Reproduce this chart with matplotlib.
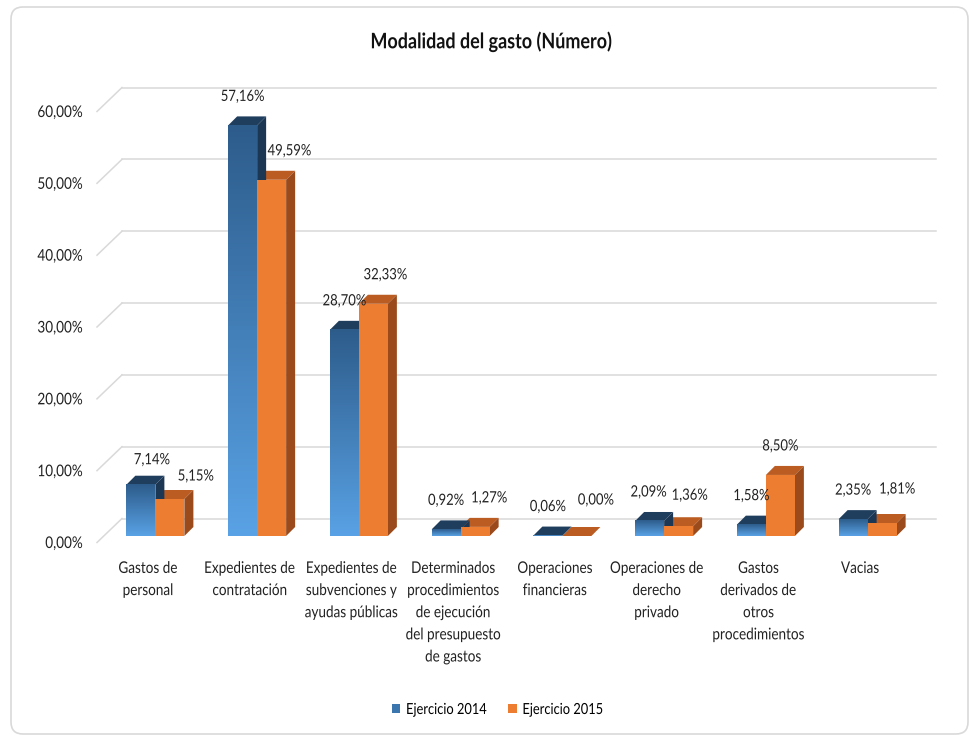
import numpy as np
import matplotlib
matplotlib.use("Agg")
import matplotlib.pyplot as plt
from matplotlib import font_manager as fm
from matplotlib.patches import Polygon, FancyBboxPatch, Patch
from matplotlib.colors import to_rgb
from matplotlib.patheffects import AbstractPathEffect
from matplotlib.transforms import Affine2D

# ---------------- data ----------------
categories = [
    "Gastos de\npersonal",
    "Expedientes de\ncontratación",
    "Expedientes de\nsubvenciones y\nayudas públicas",
    "Determinados\nprocedimientos\nde ejecución\ndel presupuesto\nde gastos",
    "Operaciones\nfinancieras",
    "Operaciones de\nderecho\nprivado",
    "Gastos\nderivados de\notros\nprocedimientos",
    "Vacias",
]
series_names = ["Ejercicio 2014", "Ejercicio 2015"]
values_2014 = [7.14, 57.16, 28.70, 0.92, 0.06, 2.09, 1.58, 2.35]
values_2015 = [5.15, 49.59, 32.33, 1.27, 0.00, 1.36, 8.50, 1.81]
y_ticks = [0, 10, 20, 30, 40, 50, 60]
title = "Modalidad del gasto (Número)"

# label nudges (pixels) mimicking Excel's placement
nudge_2014 = [(11, -4), (0, 0), (0, 0), (0, 0), (0, 0), (-1, 0), (0, 0), (0, 0)]
nudge_2015 = [(26, -6), (18, 0), (12, 0), (14, 0), (19, 7), (11, 2), (0, 0), (15, 5)]

# ---------------- fonts ----------------
names = {f.name for f in fm.fontManager.ttflist}
if "Liberation Sans Narrow" in names:
    FONT = "Liberation Sans Narrow"
    S_TICK, S_VAL, S_CAT, S_TITLE, S_LEG = 11.3, 10.2, 11.0, 14.5, 11.0
    CONDENSE = 1.0
else:
    FONT = "Lato"
    S_TICK, S_VAL, S_CAT, S_TITLE, S_LEG = 11.6, 11.2, 11.6, 15.4, 11.0
    CONDENSE = 0.84
plt.rcParams["font.family"] = [FONT, "DejaVu Sans"]


class Condense(AbstractPathEffect):
    """Horizontally narrow the glyphs (the reference uses a condensed face)."""

    def __init__(self, s=0.85, anchor="center"):
        super().__init__()
        self.s = s
        self.anchor = anchor

    def draw_path(self, renderer, gc, tpath, affine, rgbFace=None):
        ext = tpath.get_extents()
        if self.anchor == "center":
            a = (ext.x0 + ext.x1) / 2
        elif self.anchor == "right":
            a = ext.x1
        else:
            a = ext.x0
        t = Affine2D().translate(-a, 0).scale(self.s, 1).translate(a, 0) + affine
        renderer.draw_path(gc, tpath, t, rgbFace)


W, H = 970, 736
fig = plt.figure(figsize=(W / 100, H / 100), dpi=100)

# background frame
bg = fig.add_axes([0, 0, 1, 1], zorder=-5)
bg.set_xlim(0, W)
bg.set_ylim(H, 0)
bg.axis("off")
bg.add_patch(FancyBboxPatch((11, 7), 957, 727, boxstyle="round,pad=0,rounding_size=12",
                            fc="white", ec="#d9d9d9", lw=1.2))

# plot axes (front plane)
x_left, x_right = 97, 911
y_bottom, y_top = 542.5, 111.5
ax = fig.add_axes([x_left / W, 1 - y_bottom / H, (x_right - x_left) / W, (y_bottom - y_top) / H])
n = len(categories)
ax.set_xlim(0, n)
ax.set_ylim(0, 60)
sx = (x_right - x_left) / n       # px per category unit
sy = (y_bottom - y_top) / 60.0    # px per percent
for s in ax.spines.values():
    s.set_visible(False)

# back wall gridlines
wall_dx, wall_dy = 25 / sx, 24 / sy
grid_c = "#d9d9d9"
for v in y_ticks:
    ax.plot([0, wall_dx], [v, v + wall_dy], color=grid_c, lw=1.1, clip_on=False, zorder=1)
    ax.plot([wall_dx, n + wall_dx], [v + wall_dy, v + wall_dy], color=grid_c, lw=1.1,
            clip_on=False, zorder=1)

# bars
bar_w = 29 / sx
pos_dx, pos_dy = 7.5 / sx, 6.5 / sy      # bars sit a little behind front plane
dep_dx, dep_dy = 9 / sx, 9 / sy          # bar depth

blue_top_c, blue_side_c = "#1f3e5e", "#1c3754"
blue_grad_top, blue_grad_bot = np.array(to_rgb("#2d5c8b")), np.array(to_rgb("#59a2e5"))
or_front_c, or_top_c, or_side_c = "#ed7d31", "#bb5c22", "#9a4a1b"


def faces(x0, h):
    x1 = x0 + bar_w
    b = pos_dy
    t = h + pos_dy
    top = [(x0, t), (x1, t), (x1 + dep_dx, t + dep_dy), (x0 + dep_dx, t + dep_dy)]
    side = [(x1, b), (x1 + dep_dx, b + dep_dy), (x1 + dep_dx, t + dep_dy), (x1, t)]
    return top, side, (x0, x1, b, t)


grad = np.linspace(0, 1, 256)[:, None, None]
grad_img = blue_grad_top * (1 - grad) + blue_grad_bot * grad
pe_c = [Condense(CONDENSE, "center")]

for i in range(n):
    c = i + 0.5 + pos_dx
    xb = c - bar_w
    xo = c
    hb, ho = values_2014[i], values_2015[i]
    tb, sb, fb = faces(xb, hb)
    to, so, fo = faces(xo, ho)
    ax.add_patch(Polygon(to, closed=True, fc=or_top_c, ec="none", zorder=3, clip_on=False))
    ax.add_patch(Polygon(so, closed=True, fc=or_side_c, ec="none", zorder=3, clip_on=False))
    ax.add_patch(Polygon(tb, closed=True, fc=blue_top_c, ec="none", zorder=4, clip_on=False))
    ax.add_patch(Polygon(sb, closed=True, fc=blue_side_c, ec="none", zorder=4, clip_on=False))
    x0, x1, b, t = fb
    if t - b > 0:
        ax.imshow(grad_img, extent=[x0, x1, b, t], aspect="auto", origin="upper",
                  zorder=5, clip_on=False, interpolation="bilinear")
    x0, x1, b, t = fo
    ax.add_patch(Polygon([(x0, b), (x1, b), (x1, t), (x0, t)], closed=True,
                         fc=or_front_c, ec="none", zorder=6, clip_on=False))

    for (v, xc, nd) in ((hb, xb + bar_w / 2, nudge_2014[i]), (ho, xo + bar_w / 2, nudge_2015[i])):
        ax.annotate(f"{v:.2f}".replace(".", ",") + "%", xy=(xc, v + pos_dy),
                    xytext=(nd[0], 28.5 + nd[1]), textcoords="offset pixels",
                    ha="center", va="center", fontsize=S_VAL, color="#222222",
                    zorder=8, annotation_clip=False, path_effects=pe_c)

ax.set_xlim(0, n)
ax.set_ylim(0, 60)

ax.set_yticks(y_ticks)
ax.set_yticklabels([f"{v:.2f}".replace(".", ",") + "%" for v in y_ticks], fontsize=S_TICK,
                   color="#222222")
ax.set_xticks([i + 0.5 for i in range(n)])
ax.set_xticklabels(categories, fontsize=S_CAT, color="#222222", linespacing=1.74, va="top")
ax.tick_params(axis="y", length=0, pad=10)
ax.tick_params(axis="x", length=0, pad=14)
for lab in ax.get_yticklabels():
    lab.set_path_effects([Condense(CONDENSE, "right")])
for lab in ax.get_xticklabels():
    lab.set_path_effects(pe_c)

fig.text(491 / W, 1 - 42 / H, title, ha="center", va="center", fontsize=S_TITLE,
         fontweight="bold", color="#111111", path_effects=pe_c)

handles = [Patch(fc="#3c76ae", ec="none"), Patch(fc=or_front_c, ec="none")]
leg = fig.legend(handles, series_names, loc="center", bbox_to_anchor=(505 / W, 1 - 710 / H),
                 ncol=2, frameon=False, fontsize=S_LEG, handlelength=0.55, handleheight=0.6,
                 handletextpad=0.35, columnspacing=0.45)
for t in leg.get_texts():
    t.set_path_effects([Condense(CONDENSE, "left")])

fig.savefig("out.png", dpi=100)
